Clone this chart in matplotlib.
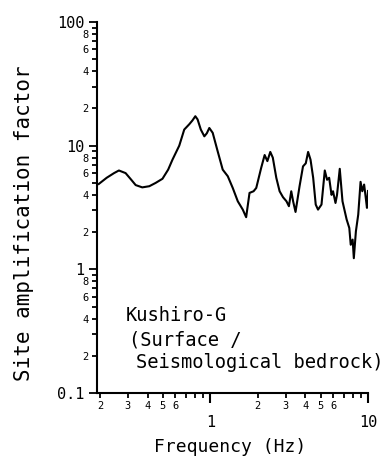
import numpy as np
import matplotlib
matplotlib.use('Agg')
import matplotlib.pyplot as plt

freq = [0.196, 0.22, 0.245, 0.263, 0.29, 0.315, 0.336, 0.37, 0.41, 0.45, 0.497,
        0.54, 0.575, 0.635, 0.683, 0.735, 0.77, 0.803, 0.83, 0.87, 0.916, 0.95,
        0.985, 1.035, 1.113, 1.198, 1.29, 1.387, 1.493, 1.606, 1.687, 1.772,
        1.88, 1.955, 2.1, 2.21, 2.3, 2.4, 2.49, 2.62, 2.75, 2.89, 3.04, 3.15,
        3.26, 3.35, 3.47, 3.68, 3.87, 4.03, 4.17, 4.32, 4.49, 4.66, 4.82, 5.07,
        5.32, 5.5, 5.67, 5.87, 6.0, 6.22, 6.36, 6.62, 6.89, 7.32, 7.61, 7.77,
        7.99, 8.13, 8.38, 8.67, 8.97, 9.2, 9.45, 9.68, 9.85, 10.0]
amp = [4.9, 5.5, 6.0, 6.3, 6.0, 5.3, 4.8, 4.6, 4.7, 5.0, 5.4,
       6.4, 7.7, 10.0, 13.5, 14.9, 16.0, 17.3, 16.3, 13.5, 11.9, 12.6,
       13.9, 12.7, 9.0, 6.4, 5.66, 4.55, 3.55, 3.04, 2.64, 4.15,
       4.28, 4.55, 6.6, 8.4, 7.5, 8.9, 8.0, 5.5, 4.28, 3.83, 3.55, 3.24,
       4.28, 3.55, 2.91, 4.7, 6.8, 7.2, 8.9, 7.7, 5.5, 3.34, 3.04, 3.34,
       6.3, 5.3, 5.5, 4.0, 4.28, 3.44, 4.0, 6.5, 3.55, 2.53, 2.16, 1.58,
       1.74, 1.23, 2.03, 2.77, 5.1, 4.28, 4.85, 3.78, 3.14, 4.3]

y_major = [0.1, 1, 10, 100]
y_major_labels = ['0.1', '1', '10', '100']
y_minor = [m * d for d in [0.1, 1, 10] for m in range(2, 10)]
y_minor_labels = [str(m) if m in (2, 4, 6, 8) else '' for d in [0.1, 1, 10] for m in range(2, 10)]
x_major = [1, 10]
x_major_labels = ['1', '10']
x_minor = [m * d for d in [0.1, 1] for m in range(2, 10)]
x_minor_labels = [str(m) if m <= 6 else '' for d in [0.1, 1] for m in range(2, 10)]

plt.rcParams['font.family'] = ['DejaVu Sans Mono']

W, H = 385, 459
fig = plt.figure(figsize=(W / 100, H / 100), dpi=100)
ax = fig.add_axes([97 / W, (H - 393) / H, (368 - 97) / W, (393 - 22) / H])

ax.plot(freq, amp, color='black', linewidth=1.5)
ax.set_xscale('log')
ax.set_yscale('log')
ax.set_xlim(0.191, 10)
ax.set_ylim(0.1, 100)

ax.set_yticks(y_major, labels=y_major_labels)
ax.set_yticks(y_minor, labels=y_minor_labels, minor=True)
ax.set_xticks(x_major, labels=x_major_labels)
ax.set_xticks(x_minor, labels=x_minor_labels, minor=True)

ax.tick_params(axis='y', which='major', length=6, width=1.3, labelsize=11, pad=3)
ax.tick_params(axis='y', which='minor', length=3.5, width=1.3, labelsize=7.5, pad=2.5)
ax.tick_params(axis='x', which='major', length=7, width=1.5, labelsize=11, pad=9)
ax.tick_params(axis='x', which='minor', length=3.5, width=1.3, labelsize=7.5, pad=2.5)

for s in ['top', 'right']:
    ax.spines[s].set_visible(False)
for s in ['left', 'bottom']:
    ax.spines[s].set_linewidth(1.5)

fig.text(230 / W, 1 - 452 / H, 'Frequency (Hz)', fontsize=13, ha='center', va='baseline')
fig.text(24 / W, 1 - 223 / H, 'Site amplification factor', fontsize=15,
         rotation=90, ha='center', va='center')

fig.text(126 / W, 1 - 321 / H, 'Kushiro-G', fontsize=13.5, va='baseline')
fig.text(129 / W, 1 - 345 / H, '(Surface /', fontsize=13.5, va='baseline')
fig.text(136 / W, 1 - 368 / H, 'Seismological bedrock)', fontsize=13.5, va='baseline')

fig.savefig('out.png', dpi=100)
